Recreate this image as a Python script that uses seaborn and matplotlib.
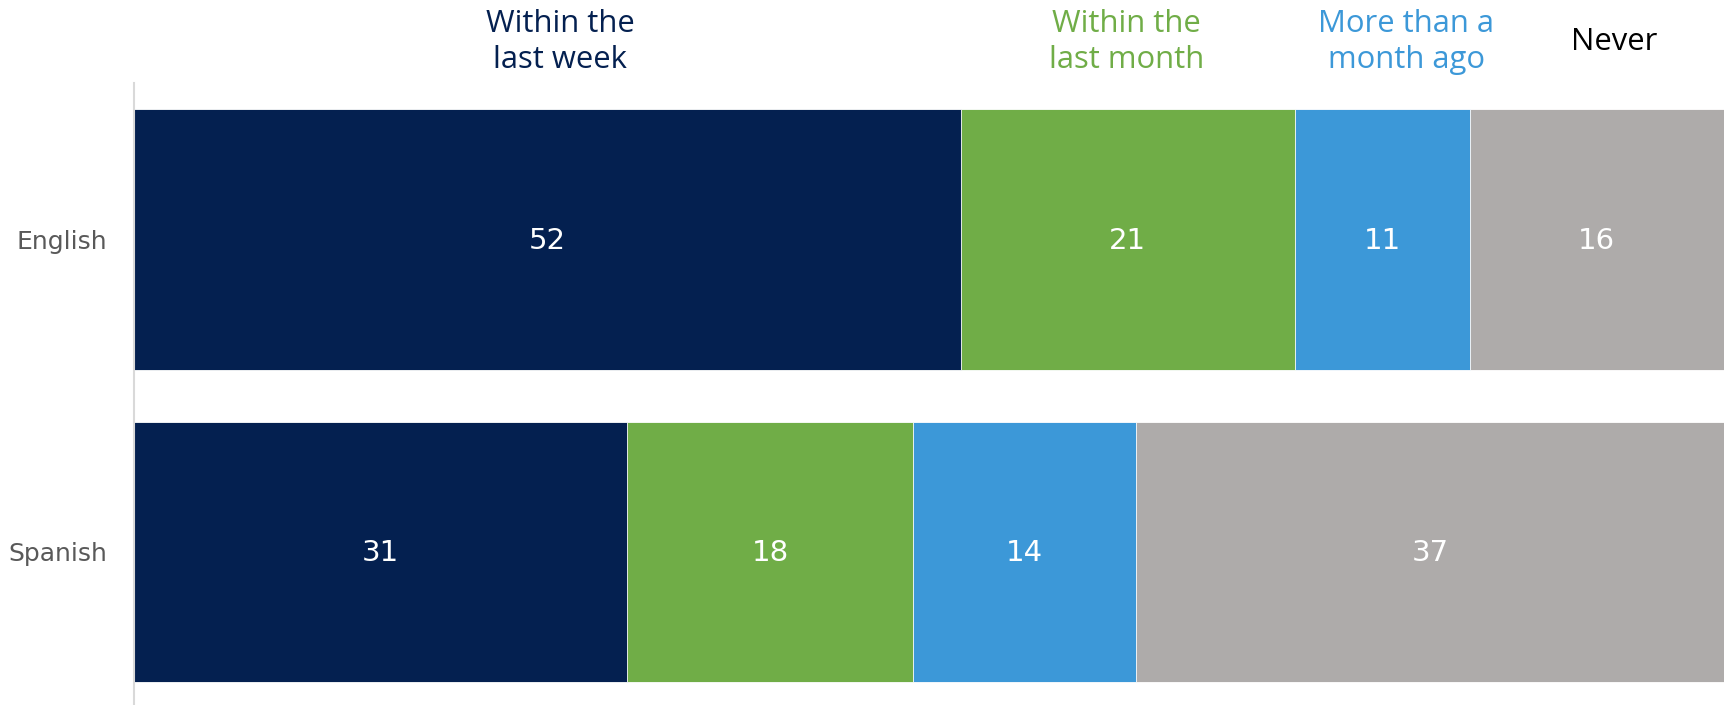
import numpy as np
import pandas as pd
import matplotlib.pyplot as plt
import seaborn as sns

# data
languages = ["English", "Spanish"]
categories = ["Within the\nlast week", "Within the\nlast month", "More than a\nmonth ago", "Never"]
week = [52, 31]
month = [21, 18]
older = [11, 14]
never = [16, 37]
colors = ["#042050", "#70AD47", "#3C98D8", "#AEABAA"]
label_colors = ["#042050", "#70AD47", "#3C98D8", "#000000"]
label_x = [26.8, 62.4, 80.0, 93.1]

sns.set_style("white")
plt.rcParams['font.family'] = ['Open Sans', 'DejaVu Sans']

series = [week, month, older, never]
cum = np.cumsum(np.array(series), axis=0)

fig = plt.figure(figsize=(17.29, 7.05), dpi=100)
ax = fig.add_axes([134 / 1729, 0, (1724 - 134) / 1729, 622 / 705])

# stacked bars: draw cumulative totals from the back to the front
for i in range(len(series) - 1, -1, -1):
    df = pd.DataFrame({"lang": languages, "val": cum[i]})
    sns.barplot(data=df, y="lang", x="val", orient="h", color=colors[i],
                width=0.834, edgecolor="white", linewidth=0.6, saturation=1, ax=ax)

# value labels inside each segment
for i, s in enumerate(series):
    for j, v in enumerate(s):
        left = cum[i][j] - v
        ax.text(left + v / 2, j + 0.005, str(v), ha="center", va="center",
                color="white", fontsize=21, family=["DejaVu Sans"])

# category labels on top
for name, x, c in zip(categories, label_x, label_colors):
    ax.text(x, -0.632, name, ha="center", va="center", color=c,
            fontsize=22.3, linespacing=1.27, clip_on=False)

ax.set_xlim(0, 100)
ax.set_ylim(1.49, -0.5)
ax.set_xlabel("")
ax.set_ylabel("")
ax.set_xticks([])
ax.tick_params(axis="y", length=0, pad=19, labelsize=18, labelcolor="#595959")
for lbl in ax.get_yticklabels():
    lbl.set_family(["DejaVu Sans"])
for sp in ["top", "right", "bottom"]:
    ax.spines[sp].set_visible(False)
ax.spines["left"].set_color("#D9D9D9")
ax.spines["left"].set_linewidth(1.5)

fig.savefig("out.png", dpi=100)
